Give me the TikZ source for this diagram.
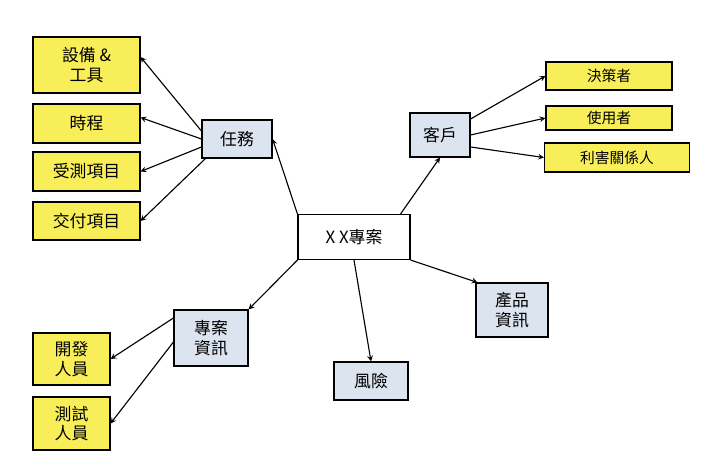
\documentclass[tikz,border=0pt]{standalone}
\usepackage{fontspec}
\setmainfont{Noto Sans CJK TC}
\usetikzlibrary{positioning}
\definecolor{boxblue}{RGB}{220,228,240}
\definecolor{boxyellow}{RGB}{248,238,90}

\begin{document}
\begin{tikzpicture}
    % Styles
    \tikzstyle{topic} = [rectangle, draw=black, thick, align=center, fill=boxblue, inner sep=1pt, font=\fontsize{12}{14}\selectfont]
    \tikzstyle{leaf} = [rectangle, draw=black, thick, align=center, fill=boxyellow, inner sep=1pt, font=\fontsize{12}{14}\selectfont]
    \tikzstyle{small} = [leaf, font=\fontsize{10.5}{12}\selectfont]
    \tikzstyle{arrow} = [->, >=stealth, thick]

    \useasboundingbox (0,0) rectangle (17.9,-11.75);

    % Nodes
    \node[topic, fill=white, minimum width=2.8cm, minimum height=1.125cm] (proj) at (8.85,-5.925) {X X專案};
    \node[topic, minimum width=1.75cm, minimum height=0.95cm] (task) at (5.925,-3.475) {任務};
    \node[topic, minimum width=1.5cm, minimum height=1.1cm] (client) at (11,-3.375) {客戶};
    \node[topic, minimum width=1.8cm, minimum height=1.35cm] (prod) at (12.8,-7.75) {產品\\資訊};
    \node[topic, minimum width=1.85cm, minimum height=0.95cm] (risk) at (9.275,-9.525) {風險};
    \node[topic, minimum width=1.85cm, minimum height=1.4cm] (info) at (5.275,-8.45) {專案\\資訊};

    \node[leaf, minimum width=2.675cm, minimum height=1.4cm] (equip) at (2.1625,-1.625) {設備 \&\\工具};
    \node[leaf, minimum width=2.675cm, minimum height=0.975cm] (sched) at (2.1625,-3.0875) {時程};
    \node[leaf, minimum width=2.675cm, minimum height=0.975cm] (items) at (2.1625,-4.2875) {受測項目};
    \node[leaf, minimum width=2.675cm, minimum height=0.95cm] (deliv) at (2.1625,-5.525) {交付項目};

    \node[small, minimum width=3.15cm, minimum height=0.7cm] (decide) at (15.225,-1.9) {決策者};
    \node[small, minimum width=3.15cm, minimum height=0.6cm] (user) at (15.225,-2.95) {使用者};
    \node[small, minimum width=3.625cm, minimum height=0.725cm] (stake) at (15.425,-3.9375) {利害關係人};

    \node[leaf, minimum width=1.925cm, minimum height=1.3cm] (dev) at (1.7875,-8.975) {開發\\人員};
    \node[leaf, minimum width=1.925cm, minimum height=1.325cm] (tester) at (1.7875,-10.5875) {測試\\人員};

    % Arrows
    \draw[arrow] (proj.north west) -- (task.east);
    \draw[arrow] ([xshift=-0.25cm]proj.north east) -- (client.south);
    \draw[arrow] (proj.south east) -- ([xshift=0.05cm]prod.north west);
    \draw[arrow] (proj.south) -- (risk.north);
    \draw[arrow] (proj.south west) -- (info.north east);

    \draw[arrow] ([yshift=0.2cm]task.west) -- ([yshift=0.2cm]equip.east);
    \draw[arrow] (task.west) -- ([yshift=0.15cm]sched.east);
    \draw[arrow] ([yshift=-0.2cm]task.west) -- (items.east);
    \draw[arrow] ([xshift=0.1cm]task.south west) -- (deliv.east);

    \draw[arrow] ([yshift=0.4cm]client.east) -- (decide.west);
    \draw[arrow] (client.east) -- (user.west);
    \draw[arrow] ([yshift=-0.3cm]client.east) -- (stake.west);

    \draw[arrow] ([yshift=0.5cm]info.west) -- (dev.east);
    \draw[arrow] ([yshift=-0.1cm]info.west) -- (tester.east);
\end{tikzpicture}
\end{document}
